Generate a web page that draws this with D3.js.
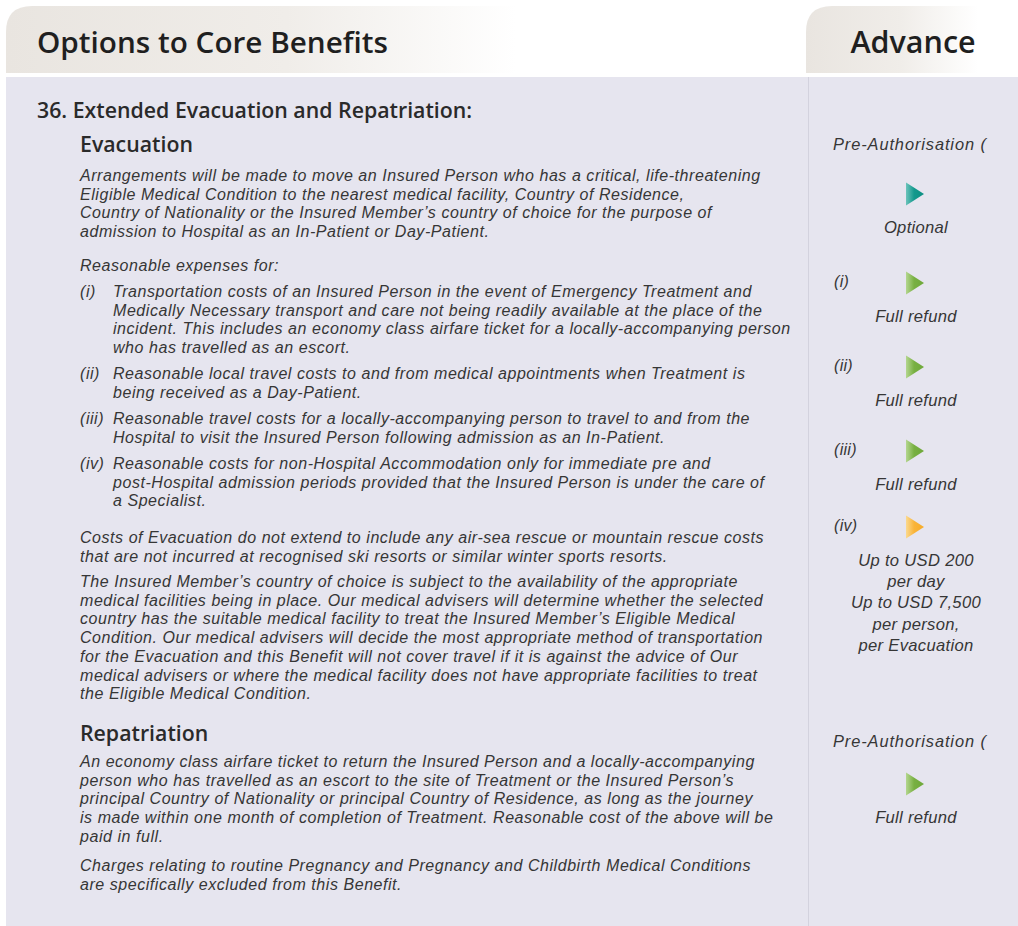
<!DOCTYPE html>
<html><head><meta charset="utf-8">
<script src="https://cdn.jsdelivr.net/npm/d3@7/dist/d3.min.js"></script>
<style>html,body{margin:0;padding:0;background:#fff;}svg{display:block;}</style>
</head><body>
<script>
// ---- content ----
const headerTitles = ["Options to Core Benefits", "Advance"];
const sectionTitle = "36. Extended Evacuation and Repatriation:";
const subHeadings = ["Evacuation", "Repatriation"];
const evacIntro = [
  "Arrangements will be made to move an Insured Person who has a critical, life-threatening",
  "Eligible Medical Condition to the nearest medical facility, Country of Residence,",
  "Country of Nationality or the Insured Member\u2019s country of choice for the purpose of",
  "admission to Hospital as an In-Patient or Day-Patient."
];
const expensesLead = ["Reasonable expenses for:"];
const itemLabels = ["(i)", "(ii)", "(iii)", "(iv)"];
const itemTexts = [
  ["Transportation costs of an Insured Person in the event of Emergency Treatment and",
   "Medically Necessary transport and care not being readily available at the place of the",
   "incident. This includes an economy class airfare ticket for a locally-accompanying person",
   "who has travelled as an escort."],
  ["Reasonable local travel costs to and from medical appointments when Treatment is",
   "being received as a Day-Patient."],
  ["Reasonable travel costs for a locally-accompanying person to travel to and from the",
   "Hospital to visit the Insured Person following admission as an In-Patient."],
  ["Reasonable costs for non-Hospital Accommodation only for immediate pre and",
   "post-Hospital admission periods provided that the Insured Person is under the care of",
   "a Specialist."]
];
const evacCosts = [
  "Costs of Evacuation do not extend to include any air-sea rescue or mountain rescue costs",
  "that are not incurred at recognised ski resorts or similar winter sports resorts."
];
const evacChoice = [
  "The Insured Member\u2019s country of choice is subject to the availability of the appropriate",
  "medical facilities being in place. Our medical advisers will determine whether the selected",
  "country has the suitable medical facility to treat the Insured Member\u2019s Eligible Medical",
  "Condition. Our medical advisers will decide the most appropriate method of transportation",
  "for the Evacuation and this Benefit will not cover travel if it is against the advice of Our",
  "medical advisers or where the medical facility does not have appropriate facilities to treat",
  "the Eligible Medical Condition."
];
const repatText = [
  "An economy class airfare ticket to return the Insured Person and a locally-accompanying",
  "person who has travelled as an escort to the site of Treatment or the Insured Person\u2019s",
  "principal Country of Nationality or principal Country of Residence, as long as the journey",
  "is made within one month of completion of Treatment. Reasonable cost of the above will be",
  "paid in full."
];
const repatExcl = [
  "Charges relating to routine Pregnancy and Pregnancy and Childbirth Medical Conditions",
  "are specifically excluded from this Benefit."
];
// right column
const preAuthText = "Pre-Authorisation (";
const benefitLabels = ["", "(i)", "(ii)", "(iii)", "(iv)", ""];
const benefitKinds = ["optional", "full", "full", "full", "limit", "full"];
const benefitTexts = [
  ["Optional"],
  ["Full refund"],
  ["Full refund"],
  ["Full refund"],
  ["Up to USD 200", "per day", "Up to USD 7,500", "per person,", "per Evacuation"],
  ["Full refund"]
];

// ---- drawing ----
const W = 1018, H = 926;
const svg = d3.select("body").append("svg").attr("width", W).attr("height", H);
const defs = svg.append("defs");

function grad(id, stops) {
  const g = defs.append("linearGradient").attr("id", id)
    .attr("x1", "0%").attr("y1", "0%").attr("x2", "100%").attr("y2", "0%");
  stops.forEach(s => g.append("stop").attr("offset", s[0]).attr("stop-color", s[1]));
}
grad("hdr", [["0%", "#e9e5e0"], ["55%", "#f0ede9"], ["100%", "#ffffff"]]);
grad("triTeal", [["0%", "#6cc3bb"], ["45%", "#13998d"], ["100%", "#0d8f83"]]);
grad("triGreen", [["0%", "#b4d68f"], ["45%", "#78b042"], ["100%", "#6ea83a"]]);
grad("triOrange", [["0%", "#fbd98f"], ["45%", "#f9b43a"], ["100%", "#f7ab28"]]);
const triFill = { optional: "url(#triTeal)", full: "url(#triGreen)", limit: "url(#triOrange)" };

function roundedTopLeft(x, y, w, h, r) {
  const p = d3.path();
  p.moveTo(x, y + h);
  p.lineTo(x, y + r);
  p.quadraticCurveTo(x, y, x + r, y);
  p.lineTo(x + w, y);
  p.lineTo(x + w, y + h);
  p.closePath();
  return p.toString();
}

// headers
svg.append("path").attr("d", roundedTopLeft(6, 6, 510, 67, 26)).attr("fill", "url(#hdr)");
svg.append("path").attr("d", roundedTopLeft(806, 6, 172, 67, 26)).attr("fill", "url(#hdr)");
// main panel
svg.append("rect").attr("x", 6).attr("y", 77).attr("width", W - 6).attr("height", H - 77).attr("fill", "#e6e5ef");
svg.append("line").attr("x1", 808.5).attr("x2", 808.5).attr("y1", 77).attr("y2", H)
  .attr("stroke", "#d3d2de").attr("stroke-width", 1);

const sans = "'Open Sans', 'Noto Sans', sans-serif";
const body = "'Liberation Sans', Arial, sans-serif";
const textCol = "#363636";

svg.append("text").attr("x", 37).attr("y", 53).text(headerTitles[0])
  .attr("font-family", sans).attr("font-weight", 600).attr("font-size", 29.7).attr("fill", "#1f1f1f");
svg.append("text").attr("x", 913).attr("y", 53).attr("text-anchor", "middle").text(headerTitles[1])
  .attr("font-family", sans).attr("font-weight", 600).attr("font-size", 30.5).attr("fill", "#1f1f1f");

svg.append("text").attr("x", 37).attr("y", 118).text(sectionTitle)
  .attr("font-family", sans).attr("font-weight", 600).attr("font-size", 21.3).attr("fill", "#2a2a2a");

svg.selectAll("text.sub").data(subHeadings).join("text").attr("class", "sub")
  .attr("x", 80).attr("y", (d, i) => [152, 741][i]).text(d => d)
  .attr("font-family", sans).attr("font-weight", 600).attr("font-size", 21.3).attr("fill", "#2a2a2a");

const LH = 18.7;
const bodyFS = 16;
const bodyLS = 0.55;
function block(lines, x, y0, fs, ls, anchor, lh) {
  const g = svg.append("g");
  g.selectAll("text").data(lines).join("text")
    .attr("x", x).attr("y", (d, i) => y0 + i * (lh || LH))
    .attr("text-anchor", anchor || "start")
    .text(d => d)
    .attr("font-family", body).attr("font-style", "italic")
    .attr("font-size", fs || bodyFS).attr("letter-spacing", ls == null ? bodyLS : ls)
    .attr("fill", textCol);
  return g;
}
block(evacIntro, 80, 181);
block(expensesLead, 80, 271);
const itemY = [297, 379, 424, 469];
itemLabels.forEach((lab, i) => {
  block([lab], 80, itemY[i]);
  block(itemTexts[i], 113, itemY[i]);
});
block(evacCosts, 80, 543);
block(evacChoice, 80, 587);
block(repatText, 80, 767);
block(repatExcl, 80, 871);

// right column
[150, 747].forEach(y => block([preAuthText], 833, y, 16.4, 0.9));

const triY = [194, 283, 367, 451, 527, 784];
const cx = 915;
benefitKinds.forEach((k, i) => {
  const y = triY[i];
  const p = d3.path();
  p.moveTo(cx - 9, y - 11.5); p.lineTo(cx + 9, y); p.lineTo(cx - 9, y + 11.5); p.closePath();
  svg.append("path").attr("d", p.toString()).attr("fill", triFill[k]);
  if (benefitLabels[i]) block([benefitLabels[i]], 834, y + 4, 16, 0.3);
  block(benefitTexts[i], cx + 1, y + 39, 16.6, 0.3, "middle", 21.2);
});
</script>
</body></html>
